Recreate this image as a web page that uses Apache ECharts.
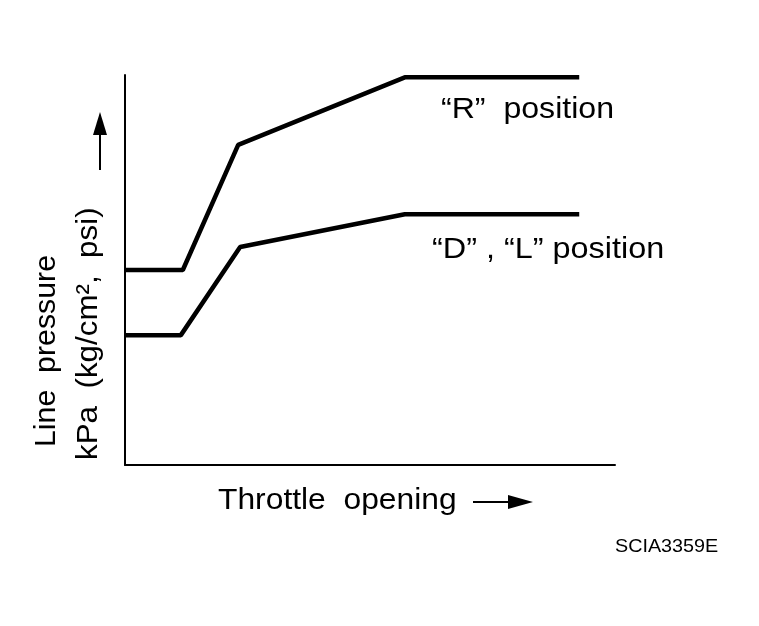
<!DOCTYPE html>
<html>
<head>
<meta charset="utf-8">
<script src="https://cdn.jsdelivr.net/npm/echarts@6/dist/echarts.min.js"></script>
<style>
  html, body { margin: 0; padding: 0; background: #fff; }
  #chart { width: 759px; height: 626px; }
</style>
</head>
<body>
<div id="chart"></div>
<script>
// throttle opening (% of axis) / line pressure (% of axis)
const rX = [0, 11.8, 23.1, 57.1, 92.7]
const rY = [50, 50, 82.1, 99.4, 99.4]
const dlX = [0, 11.4, 23.5, 57.1, 92.7]
const dlY = [33.3, 33.3, 55.9, 64.3, 64.3]

const rLabel = '\u201cR\u201d  position'
const dlLabel = '\u201cD\u201d , \u201cL\u201d position'
const xTitle = 'Throttle  opening'
const yTitle1 = 'Line  pressure'
const yTitle2 = 'kPa  (kg/cm\u00b2,  psi)'
const figCode = 'SCIA3359E'

const FONT = '"Liberation Sans", Arial, Helvetica, sans-serif'

const chart = echarts.init(document.getElementById('chart'))

function pairs(xs, ys) {
  return xs.map((x, i) => [x, ys[i]])
}

// the source lettering is a touch wider than Liberation Sans, hence scaleX
function txt(text, x, y, size, extra) {
  return Object.assign({
    type: 'text',
    x: x,
    y: y,
    style: {
      text: text,
      fill: '#000',
      font: size + 'px ' + FONT,
      align: 'left',
      verticalAlign: 'middle'
    }
  }, extra || {})
}

const option = {
  animation: false,
  backgroundColor: '#fff',
  grid: { left: 125, right: 144, top: 75, bottom: 161 },
  xAxis: {
    type: 'value',
    min: 0,
    max: 100,
    axisLine: { show: true, lineStyle: { color: '#000', width: 2 } },
    axisTick: { show: false },
    axisLabel: { show: false },
    splitLine: { show: false }
  },
  yAxis: {
    type: 'value',
    min: 0,
    max: 100,
    axisLine: { show: true, lineStyle: { color: '#000', width: 2 } },
    axisTick: { show: false },
    axisLabel: { show: false },
    splitLine: { show: false }
  },
  series: [
    {
      name: 'R',
      type: 'line',
      data: pairs(rX, rY),
      symbol: 'none',
      lineStyle: { color: '#000', width: 4.5 }
    },
    {
      name: 'D, L',
      type: 'line',
      data: pairs(dlX, dlY),
      symbol: 'none',
      lineStyle: { color: '#000', width: 4.5 }
    }
  ],
  graphic: [
    txt(rLabel, 441, 110, 30, { scaleX: 1.07 }),
    txt(dlLabel, 432, 250, 30, { scaleX: 1.08 }),
    txt(xTitle, 218, 501, 30, { scaleX: 1.06 }),
    txt(figCode, 615, 547, 19, { scaleX: 1.04 }),
    // rotated y titles, reading bottom to top
    txt(yTitle1, 47, 447, 30, { rotation: Math.PI / 2, scaleX: 1.01 }),
    txt(yTitle2, 89, 460, 30, { rotation: Math.PI / 2, scaleX: 1.045 }),
    // x arrow
    { type: 'line', shape: { x1: 473, y1: 502, x2: 512, y2: 502 }, style: { stroke: '#000', lineWidth: 2 } },
    { type: 'polygon', shape: { points: [[508, 495], [533, 502], [508, 509]] }, style: { fill: '#000' } },
    // y arrow
    { type: 'line', shape: { x1: 100, y1: 170, x2: 100, y2: 130 }, style: { stroke: '#000', lineWidth: 2 } },
    { type: 'polygon', shape: { points: [[93, 135], [100, 112], [107, 135]] }, style: { fill: '#000' } }
  ]
}

chart.setOption(option)
</script>
</body>
</html>
